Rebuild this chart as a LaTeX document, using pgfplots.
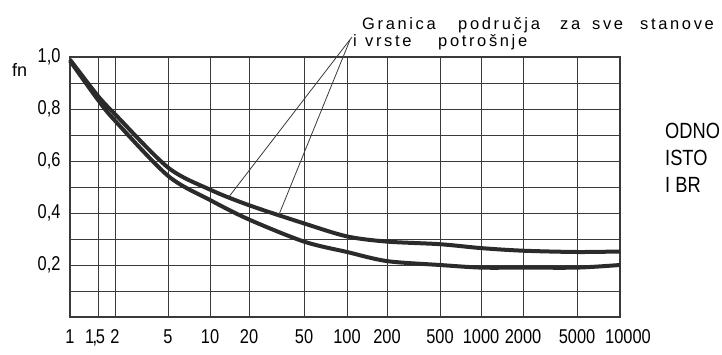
\documentclass[border=0pt]{standalone}
\usepackage{fontspec}
\setmainfont{Liberation Sans}
\newfontfamily\annofont[LetterSpace=16]{Liberation Sans}
\newfontfamily\bigfont[FakeStretch=0.83]{Liberation Sans}
\newfontfamily\tickfont[FakeStretch=0.82]{Liberation Sans}
\usepackage{pgfplots}
\pgfplotsset{compat=1.18}
\definecolor{gridc}{HTML}{3A3A3A}
\definecolor{curvec}{HTML}{2B2B2B}
\begin{document}
\begin{tikzpicture}
\useasboundingbox (0,0) rectangle (722pt,354pt);
\clip (0,0) rectangle (722pt,354pt);
\begin{axis}[
  at={(70pt,37pt)}, anchor=south west,
  scale only axis, width=550pt, height=260pt,
  xmin=0, xmax=550, ymin=0, ymax=1,
  xtick={0,28,45,98,140,179,234,277,317,370,411,453,507,550},
  xticklabels={1,{\hspace*{-6pt}1\kern-1.5pt,\kern-1.5pt5},2,5,10,20,50,100,200,500,1000,2000,5000,{\hspace*{16pt}10000}},
  ytick={0.2,0.4,0.6,0.8,1.0},
  yticklabels={{0,2},{0,4},{0,6},{0,8},{1,0}},
  minor ytick={0.1,0.3,0.5,0.7,0.9},
  grid=both,
  major grid style={draw=gridc, line width=0.9pt},
  minor grid style={draw=gridc, line width=0.9pt},
  axis line style={draw=gridc, line width=1.1pt},
  tick style={draw=none},
  /pgf/number format/assume math mode=true,
  ticklabel style={font=\tickfont\fontsize{20}{20}\selectfont},
  xticklabel style={yshift=-9pt},
  yticklabel style={xshift=-6pt},
  clip=false,
]
\addplot[curvec, line width=4pt, smooth, tension=0.5] coordinates {
  (0,0.99)(28,0.85)(45,0.78)(98,0.575)(140,0.49)(179,0.43)(234,0.36)
  (277,0.31)(317,0.29)(370,0.28)(411,0.265)(453,0.255)(507,0.25)(550,0.252)};
\addplot[curvec, line width=4pt, smooth, tension=0.5] coordinates {
  (0,0.985)(28,0.835)(45,0.755)(98,0.543)(140,0.45)(179,0.375)(234,0.29)
  (277,0.25)(317,0.215)(370,0.2)(411,0.19)(453,0.19)(507,0.19)(550,0.2)};
\end{axis}
% leader lines
\draw[gridc, line width=0.8pt] (352pt,317pt) -- (228pt,156pt);
\draw[gridc, line width=0.8pt] (350pt,314pt) -- (278pt,137pt);
% y label
\node[anchor=base west, inner sep=0, font=\fontsize{18}{18}\selectfont] at (12pt,277pt) {fn};
% annotation text
\begin{scope}[every node/.style={anchor=base west, inner sep=0, font=\annofont\fontsize{16.5}{16.5}\selectfont}]
\node at (362pt,324pt) {Granica};
\node at (458pt,324pt) {područja};
\node at (560pt,324pt) {za};
\node at (592pt,324pt) {sve};
\node at (640pt,324pt) {stanove};
\node at (353pt,307pt) {i};
\node at (365pt,307pt) {vrste};
\node at (438pt,307pt) {potrošnje};
\end{scope}
\begin{scope}[every node/.style={anchor=base west, inner sep=0, font=\bigfont\fontsize{22}{22}\selectfont}]
\node at (665pt,216pt) {ODNO};
\node at (665pt,189pt) {ISTO};
\node at (665pt,162pt) {I BR};
\end{scope}
\end{tikzpicture}
\end{document}
